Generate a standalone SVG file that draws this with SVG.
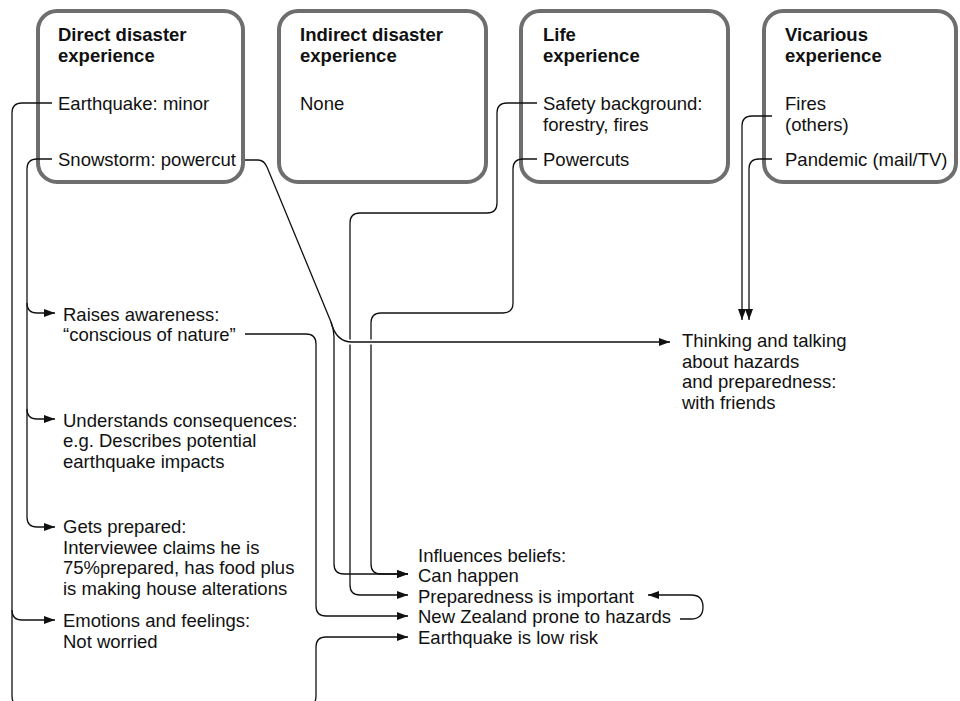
<svg xmlns="http://www.w3.org/2000/svg" width="960" height="701" viewBox="0 0 960 701">
<style>
text{font-family:"Liberation Sans",Arial,Helvetica,sans-serif;font-size:18.5px;fill:#111}
.t{font-weight:bold}
.box{fill:#fff;stroke:#6e6e6e;stroke-width:4}
.c{fill:none;stroke:#111;stroke-width:1.3}
.gap{fill:none;stroke:#fff;stroke-width:5}
</style>
<defs>
<marker id="arr" viewBox="0 0 11 8" refX="11" refY="4" markerWidth="11" markerHeight="8" markerUnits="userSpaceOnUse" orient="auto">
<path d="M0,0 L11,4 L0,8 z" fill="#111"/>
</marker>
</defs>
<rect width="960" height="701" fill="#fff"/>

<g id="box-direct">
<rect class="box" x="38" y="11" width="205" height="171" rx="19"/>
<text class="t" x="58" y="40.5">Direct disaster</text>
<text class="t" x="58" y="61.5">experience</text>
<text x="58" y="110">Earthquake: minor</text>
<text x="58" y="165.5">Snowstorm: powercut</text>
</g>
<g id="box-indirect">
<rect class="box" x="279" y="11" width="207" height="171" rx="19"/>
<text class="t" x="300" y="40.5">Indirect disaster</text>
<text class="t" x="300" y="61.5">experience</text>
<text x="300" y="110">None</text>
</g>
<g id="box-life">
<rect class="box" x="521" y="11" width="207" height="171" rx="19"/>
<text class="t" x="543" y="40.5">Life</text>
<text class="t" x="543" y="61.5">experience</text>
<text x="543" y="110">Safety background:</text>
<text x="543" y="131">forestry, fires</text>
<text x="543" y="165.5">Powercuts</text>
</g>
<g id="box-vicarious">
<rect class="box" x="764" y="11" width="192" height="171" rx="19"/>
<text class="t" x="785" y="40.5">Vicarious</text>
<text class="t" x="785" y="61.5">experience</text>
<text x="785" y="110">Fires</text>
<text x="785" y="131">(others)</text>
<text x="785" y="165.5">Pandemic (mail/TV)</text>
</g>

<g id="raises-awareness">
<text x="63" y="320.5">Raises awareness:</text>
<text x="63" y="341">“conscious of nature”</text>
</g>
<g id="understands-consequences">
<text x="63" y="426.5">Understands consequences:</text>
<text x="63" y="447">e.g. Describes potential</text>
<text x="63" y="467.5">earthquake impacts</text>
</g>
<g id="gets-prepared">
<text x="63" y="533">Gets prepared:</text>
<text x="63" y="553.5">Interviewee claims he is</text>
<text x="63" y="574">75%prepared, has food plus</text>
<text x="63" y="594.5">is making house alterations</text>
</g>
<g id="emotions">
<text x="63" y="627">Emotions and feelings:</text>
<text x="63" y="647.5">Not worried</text>
</g>
<g id="thinking-talking">
<text x="682" y="347">Thinking and talking</text>
<text x="682" y="367.5">about hazards</text>
<text x="682" y="388">and preparedness:</text>
<text x="682" y="408.5">with friends</text>
</g>
<g id="influences-beliefs">
<text x="418" y="561.5">Influences beliefs:</text>
<text x="418" y="582">Can happen</text>
<text x="418" y="602.5">Preparedness is important</text>
<text x="418" y="623">New Zealand prone to hazards</text>
<text x="418" y="643.5">Earthquake is low risk</text>
</g>

<g id="connectors">
<!-- Earthquake: minor -->
<path class="c" d="M52,103 H22 Q12,103 12,113 V696 Q12,706 22,706 H306 Q316,706 316,696 V647 Q316,637 326,637 H408" marker-end="url(#arr)"/>
<path class="c" d="M12,610 Q12,620 22,620 H55" marker-end="url(#arr)"/>
<!-- Snowstorm: powercut (left) -->
<path class="c" d="M52,159 H37 Q27,159 27,169 V517 Q27,527 37,527 H55" marker-end="url(#arr)"/>
<path class="c" d="M27,303 Q27,313 37,313 H55" marker-end="url(#arr)"/>
<path class="c" d="M27,409 Q27,419 37,419 H55" marker-end="url(#arr)"/>
<!-- Safety background -->
<path class="c" d="M537,103 H507 Q497,103 497,113 V203 Q497,213 487,213 H360 Q350,213 350,223 V585 Q350,595 360,595 H408" marker-end="url(#arr)"/>
<!-- Powercuts -->
<path class="c" d="M537,159 H523 Q513,159 513,169 V303 Q513,313 503,313 H381 Q371,313 371,323 V564 Q371,574 381,574 H408" marker-end="url(#arr)"/>
<!-- conscious of nature -->
<path class="c" d="M245,334 H306 Q316,334 316,344 V606 Q316,616 326,616 H408" marker-end="url(#arr)"/>
<!-- Snowstorm: powercut (right) -->
<path class="c" d="M245,160 H258 Q264,160 267,167 L331,322 Q334,329 334,337 V564 Q334,574 344,574 H408" marker-end="url(#arr)"/>
<path class="gap" d="M344,342 H377"/>
<path class="c" d="M331,322 Q336,342 352,342 H670" marker-end="url(#arr)"/>
<!-- Vicarious -->
<path class="c" d="M772,116 H752 Q742,116 742,126 V320" marker-end="url(#arr)"/>
<path class="c" d="M772,159 H759 Q749,159 749,169 V320" marker-end="url(#arr)"/>
<!-- NZ loop back -->
<path class="c" d="M680,619 H691 Q703,619 703,607 Q703,595 691,595 H648" marker-end="url(#arr)"/>
</g>
</svg>
